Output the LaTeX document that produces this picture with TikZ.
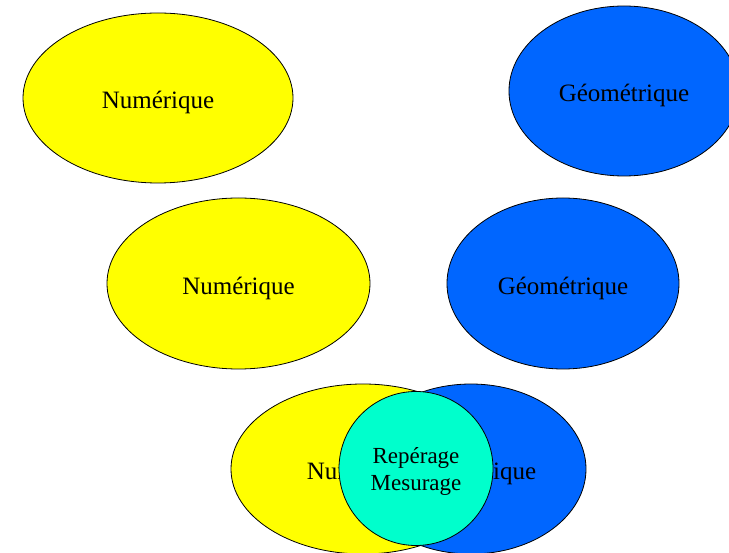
\documentclass[tikz,border=0pt]{standalone}
\usepackage{fontspec}
\setmainfont{Liberation Serif}
\usetikzlibrary{shapes.geometric}
\definecolor{jaunenum}{RGB}{255,255,0}
\definecolor{bleugeo}{RGB}{0,102,255}
\definecolor{menthe}{RGB}{0,255,204}
\begin{document}
\begin{tikzpicture}[x=1pt,y=-1pt,
    zone/.style={ellipse,draw=black,line width=.8pt,inner sep=0pt,
      font=\fontsize{25}{30}\selectfont,text height=28pt,text depth=6pt},
    num/.style={zone,fill=jaunenum},
    geo/.style={zone,fill=bleugeo}]
  \useasboundingbox (0,0) rectangle (729,553);
  \clip (0,0) rectangle (729,553);
  % en haut
  \node[num,minimum width=270pt,minimum height=170pt] (num1) at (158,98) {Numérique};
  \node[geo,minimum width=230pt,minimum height=170pt] (geo1) at (624,91) {Géométrique};
  % au milieu
  \node[num,minimum width=263pt,minimum height=171pt] (num2) at (238.5,283.5) {Numérique};
  \node[geo,minimum width=232pt,minimum height=171pt] (geo2) at (563,283.5) {Géométrique};
  % en bas : l'intersection
  \node[num,minimum width=264pt,minimum height=170pt] (num3) at (363,469) {Numérique};
  \node[geo,minimum width=230pt,minimum height=170pt] (geo3) at (471,469) {Géométrique};
  \node[circle,draw=black,line width=.8pt,fill=menthe,minimum size=154pt,inner sep=0pt,
    align=center,font=\fontsize{23}{27}\selectfont,text height=49.5pt,text depth=5pt]
    (rep) at (416,468.5) {Repérage\\Mesurage};
\end{tikzpicture}
\end{document}
